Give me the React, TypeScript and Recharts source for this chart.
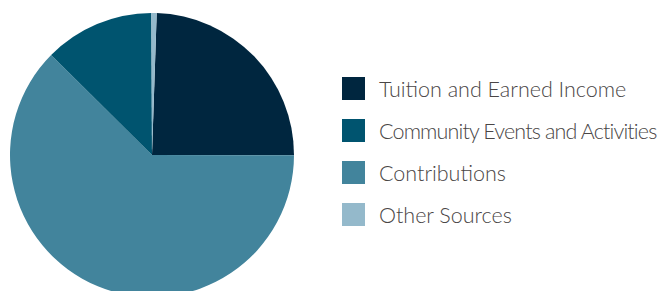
import { Cell, Legend, Pie, PieChart } from 'recharts'

// slices in drawing order (clockwise from just right of 12 o'clock)
const sliceNames = [
  'Tuition and Earned Income',
  'Contributions',
  'Community Events and Activities',
  'Other Sources',
]
const sliceValues = [24.5, 62.4, 12.5, 0.6]

// legend order as printed
const legendNames = [
  'Tuition and Earned Income',
  'Community Events and Activities',
  'Contributions',
  'Other Sources',
]

const colors = {
  'Tuition and Earned Income': '#00263F',
  'Community Events and Activities': '#00546F',
  Contributions: '#42849C',
  'Other Sources': '#94B9CB',
}

const data = sliceNames.map((name, i) => ({ name, value: sliceValues[i] }))

const LegendList = () => (
  <div style={{ display: 'flex', flexDirection: 'column', gap: 19 }}>
    {legendNames.map((name) => (
      <div key={name} style={{ display: 'flex', alignItems: 'center', height: 23 }}>
        <span
          style={{
            display: 'inline-block',
            width: 23,
            height: 23,
            background: colors[name],
            marginRight: 14,
            flexShrink: 0,
          }}
        />
        <span
          style={{
            fontFamily: 'Lato, sans-serif',
            fontWeight: 300,
            fontSize: 21.5,
            color: '#4a4646',
            whiteSpace: 'nowrap',
            // the long label is set tighter in the original
            letterSpacing: name.length > 28 ? -0.85 : 0,
          }}
        >
          {name}
        </span>
      </div>
    ))}
  </div>
)

export default function App() {
  return (
    <div style={{ position: 'absolute', left: 0, top: 0, width: 662, height: 291, background: '#fff' }}>
      <PieChart width={662} height={291} margin={{ top: 0, right: 0, bottom: 0, left: 0 }}>
        <Pie
          data={data}
          dataKey="value"
          nameKey="name"
          cx={152}
          cy={155}
          outerRadius={142}
          startAngle={88.1}
          endAngle={-271.9}
          stroke="none"
          isAnimationActive={false}
        >
          {data.map((d) => (
            <Cell key={d.name} fill={colors[d.name]} />
          ))}
        </Pie>
        <Legend
          content={LegendList}
          wrapperStyle={{ position: 'absolute', left: 342, top: 77, width: 320 }}
        />
      </PieChart>
    </div>
  )
}
